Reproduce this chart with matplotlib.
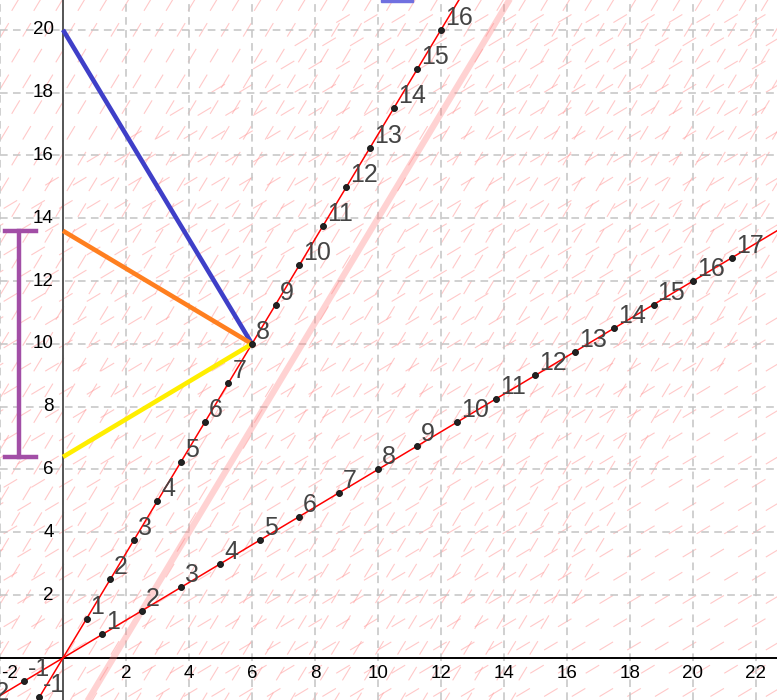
import numpy as np
import matplotlib
matplotlib.use("Agg")
import matplotlib.pyplot as plt
from matplotlib.collections import LineCollection
from matplotlib.patches import Rectangle

plt.rcParams['font.family'] = ['Liberation Sans', 'DejaVu Sans']

# ---- data ----
line1_labels = ["-1", "1", "2", "3", "4", "5", "6", "7", "8", "9", "10", "11", "12", "13", "14", "15", "16"]
line1_x = [-0.75, 0.75, 1.5, 2.25, 3.0, 3.75, 4.5, 5.25, 6.0, 6.75, 7.5, 8.25, 9.0, 9.75, 10.5, 11.25, 12.0]
line1_y = [-1.25, 1.25, 2.5, 3.75, 5.0, 6.25, 7.5, 8.75, 10.0, 11.25, 12.5, 13.75, 15.0, 16.25, 17.5, 18.75, 20.0]

line2_labels = ["-2", "-1", "1", "2", "3", "4", "5", "6", "7", "8", "9", "10", "11", "12", "13", "14", "15", "16", "17"]
line2_x = [-2.5, -1.25, 1.25, 2.5, 3.75, 5.0, 6.25, 7.5, 8.75, 10.0, 11.25, 12.5, 13.75, 15.0, 16.25, 17.5, 18.75, 20.0, 21.25]
line2_y = [-1.5, -0.75, 0.75, 1.5, 2.25, 3.0, 3.75, 4.5, 5.25, 6.0, 6.75, 7.5, 8.25, 9.0, 9.75, 10.5, 11.25, 12.0, 12.75]

slope1 = 5 / 3
slope2 = 3 / 5
pink_offset_x = 1.6

apex = (6.0, 10.0)
blue_start = (0.0, 20.0)
orange_start = (0.0, 13.6)
yellow_start = (0.0, 6.4)
bracket_x = -1.4
bracket_low, bracket_high = 6.4, 13.6

xticks = [-2, 2, 4, 6, 8, 10, 12, 14, 16, 18, 20, 22]
yticks = [2, 4, 6, 8, 10, 12, 14, 16, 18, 20]

# ---- figure ----
W, H = 777, 700
fig = plt.figure(figsize=(W / 100, H / 100), dpi=100)
ax = fig.add_axes([0, 0, 1, 1])
xmin, xmax = -2.0, 22.67
ymin, ymax = -1.34, 20.95
ax.set_xlim(xmin, xmax)
ax.set_ylim(ymin, ymax)
ax.axis('off')

# slope fields (decorative background)
seg_col = '#ff9c9c'
half = 0.25
def field(dx, dy, slope, mask_fn, ox, oy):
    segs = []
    d = np.array([1.0, slope]); d = d / np.linalg.norm(d) * half
    j = 0
    y = ymin - 1 + oy
    while y < ymax + 1:
        x = xmin - 1 + ox + (dx / 2 if j % 2 else 0)
        while x < xmax + 1:
            if mask_fn(x, y):
                segs.append([(x - d[0], y - d[1]), (x + d[0], y + d[1])])
            x += dx
        y += dy
        j += 1
    return segs

steep = field(0.7, 0.82, slope1, lambda x, y: y > slope1 * x - 25.5, 0.1, 0.2)
shallow = field(0.88, 0.74, slope2, lambda x, y: y < slope2 * x + 15.5, 0.45, 0.5)
ax.add_collection(LineCollection(steep, colors=seg_col, linewidths=0.8, alpha=0.55, zorder=1))
ax.add_collection(LineCollection(shallow, colors=seg_col, linewidths=0.8, alpha=0.55, zorder=1))

# grid
for gx in range(-2, 24, 2):
    ax.axvline(gx, color='#c4c4c4', lw=1.1, ls=(0, (5, 3.5)), zorder=2)
for gy in range(0, 22, 2):
    ax.axhline(gy, color='#c4c4c4', lw=1.1, ls=(0, (5, 3.5)), zorder=2)

# axes
ax.axhline(0, color='black', lw=1.4, zorder=3)
ax.axvline(0, color='#555555', lw=1.4, zorder=3)

for t in xticks:
    if t == -2:
        ax.text(xmin + 0.02, -0.22, "-2", ha='left', va='top', fontsize=13.5, color='black', zorder=4)
    else:
        ax.text(t, -0.22, str(t), ha='center', va='top', fontsize=13.5, color='black', zorder=4)
for t in yticks:
    ax.text(-0.3, t, str(t), ha='right', va='center', fontsize=13.5, color='black', zorder=4)

# thick pink line
xx = np.array([xmin - 1, xmax + 1])
ax.plot(xx, slope1 * (xx - pink_offset_x), color='#ff8080', lw=4.5, alpha=0.35,
        solid_capstyle='butt', zorder=3)

# red lines
ax.plot(xx, slope1 * xx, color='#ff0000', lw=1.1, zorder=5)
ax.plot(xx, slope2 * xx, color='#ff0000', lw=1.1, zorder=5)

# segments
ax.plot([blue_start[0], apex[0]], [blue_start[1], apex[1]], color='#3f3fc8', lw=3.3,
        solid_capstyle='butt', zorder=6)
ax.plot([orange_start[0], apex[0]], [orange_start[1], apex[1]], color='#ff7f1f', lw=3.3,
        solid_capstyle='butt', zorder=6)
ax.plot([yellow_start[0], apex[0]], [yellow_start[1], apex[1]], color='#ffee00', lw=3.3,
        solid_capstyle='butt', zorder=6)

# purple bracket
pc = '#a24ea6'
ax.plot([bracket_x, bracket_x], [bracket_low, bracket_high], color=pc, lw=3.2, zorder=6)
ax.plot([bracket_x - 0.45, bracket_x + 0.55], [bracket_low, bracket_low], color=pc, lw=3.2, zorder=6)
ax.plot([bracket_x - 0.45, bracket_x + 0.55], [bracket_high, bracket_high], color=pc, lw=3.2, zorder=6)

# small blue widget at top
ax.add_patch(Rectangle((10.1, 20.88), 1.0, 0.2, color='#7070e0', zorder=6))

# points and labels
for xs, ys, labs in ((line1_x, line1_y, line1_labels), (line2_x, line2_y, line2_labels)):
    ax.plot(xs, ys, 'o', ms=4.3, mfc='#222222', mec='#111111', mew=0.6, zorder=7)
    for x, y, s in zip(xs, ys, labs):
        ax.annotate(s, (x, y), xytext=(4, 5), textcoords='offset pixels',
                    ha='left', va='baseline', fontsize=18, color='#444444', zorder=8,
                    annotation_clip=False)

fig.savefig('out.png', dpi=100)
